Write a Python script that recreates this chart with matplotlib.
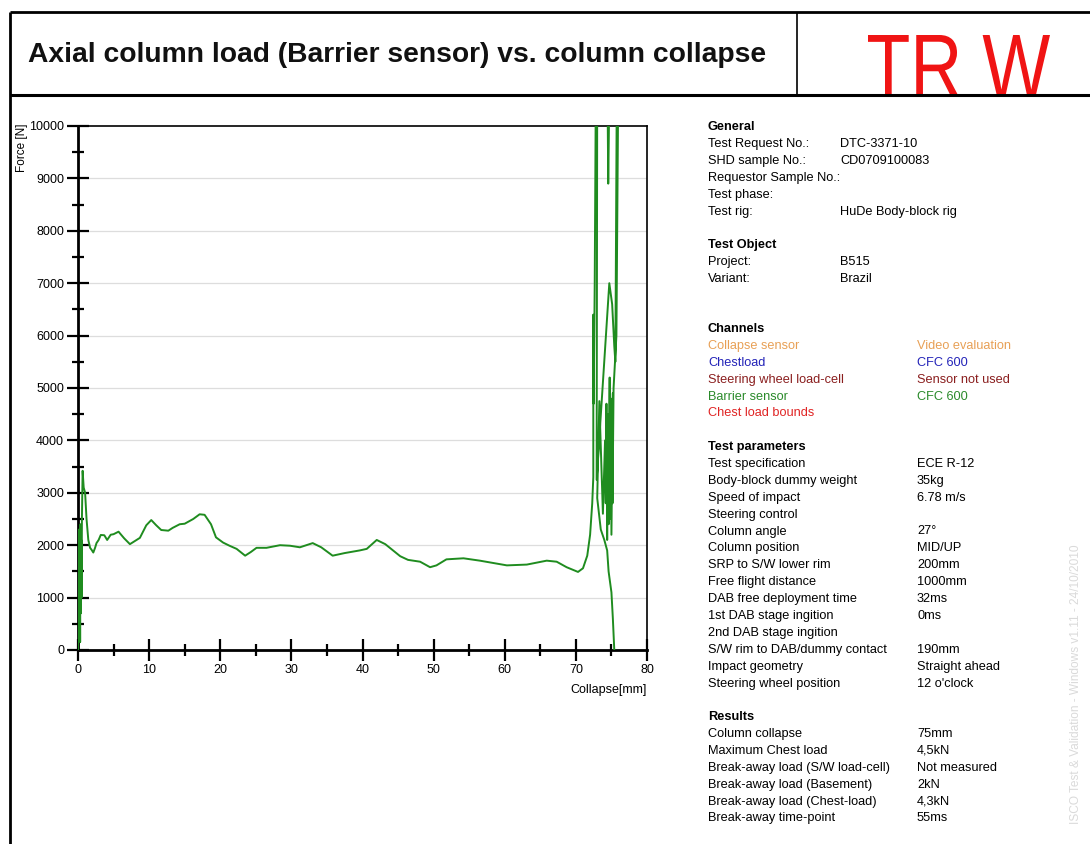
import matplotlib
matplotlib.use("Agg")
import matplotlib.pyplot as plt
from matplotlib.lines import Line2D
from matplotlib.ticker import MultipleLocator
from matplotlib.textpath import TextPath
from matplotlib.patches import PathPatch
from matplotlib.font_manager import FontProperties
from matplotlib.transforms import Affine2D

# ---------------- data ----------------
collapse_mm = [
    0.0, 0.05, 0.1, 0.15, 0.2, 0.25, 0.3, 0.35, 0.4, 0.45, 0.5, 0.55, 0.65, 0.8, 1.0,
    1.2, 1.45, 1.7, 1.92, 2.15, 2.4, 2.6, 2.9, 3.2, 3.7, 4.1, 4.6, 5.0, 5.7, 6.5,
    7.3, 8.0, 8.7, 9.6, 10.3, 11.0, 11.7, 12.7, 13.3, 14.3, 15.0, 16.2, 17.1, 17.8,
    18.7, 19.4, 20.4, 21.3, 22.3, 23.5, 24.3, 25.1, 26.5, 28.4, 29.8, 31.2, 33.0,
    34.2, 35.8, 37.5, 39.6, 40.6, 42.0, 43.2, 45.3, 46.4, 48.1, 49.5, 50.4, 51.8,
    54.2, 56.5, 60.3, 63.1, 65.9, 67.3, 68.7, 70.3, 71.0, 71.6, 72.0, 72.3, 72.45,
    72.45, 72.5, 72.65, 72.8, 73.0, 72.92, 74.7, 75.1, 75.4, 75.55, 75.75, 74.45,
    74.55, 74.7, 75.95, 75.7, 75.3, 75.15, 75.2, 75.0, 74.9, 74.8, 74.75, 74.6,
    74.5, 74.4, 74.3, 74.2, 74.1, 73.8, 73.3, 73.0, 73.5, 74.0, 74.4, 74.6, 74.8,
    75.0, 75.2, 75.3, 75.4,
]
force_N = [
    0, 1500, 200, 2300, 400, 1900, 150, 2400, 700, 2100, 1000, 2500, 3420, 3100, 3000,
    2500, 2100, 1950, 1910, 1860, 1950, 2040, 2100, 2195, 2190, 2100, 2200, 2210, 2258, 2130,
    2020, 2080, 2140, 2380, 2480, 2380, 2290, 2277, 2330, 2400, 2410, 2500, 2590, 2580,
    2400, 2150, 2050, 1990, 1930, 1800, 1870, 1950, 1950, 2000, 1990, 1960, 2040,
    1960, 1800, 1850, 1900, 1930, 2100, 2020, 1790, 1720, 1685, 1580, 1615, 1730,
    1750, 1705, 1615, 1630, 1705, 1685, 1580, 1490, 1560, 1800, 2200, 2800, 3300,
    6400, 4700, 7000, 10600, 10600, 3250, 7000, 6600, 5800, 5500, 10600, 10600,
    8900, 10600, 10600, 6000, 5000, 2800, 4900, 2200, 4800, 2500, 5200, 2400,
    4500, 2100, 4700, 2800, 4000, 2600, 4750, 2900, 2300, 2100, 1900, 1500, 1300,
    1100, 600, 300, 0,
]

x_ticks = [0, 10, 20, 30, 40, 50, 60, 70, 80]
y_ticks = [0, 1000, 2000, 3000, 4000, 5000, 6000, 7000, 8000, 9000, 10000]

title_text = "Axial column load (Barrier sensor) vs. column collapse"
logo_text = "TR W"
x_label = "Collapse[mm]"
y_label = "Force [N]"

general_rows = [
    ("Test Request No.:", "DTC-3371-10"),
    ("SHD sample No.:", "CD0709100083"),
    ("Requestor Sample No.:", ""),
    ("Test phase:", ""),
    ("Test rig:", "HuDe Body-block rig"),
]
object_rows = [("Project:", "B515"), ("Variant:", "Brazil")]
channel_rows = [
    ("Collapse sensor", "Video evaluation", "#e8a055"),
    ("Chestload", "CFC 600", "#2323b8"),
    ("Steering wheel load-cell", "Sensor not used", "#8a1e1e"),
    ("Barrier sensor", "CFC 600", "#2a8a2a"),
    ("Chest load bounds", "", "#e02424"),
]
param_rows = [
    ("Test specification", "ECE R-12"),
    ("Body-block dummy weight", "35kg"),
    ("Speed of impact", "6.78 m/s"),
    ("Steering control", ""),
    ("Column angle", "27°"),
    ("Column position", "MID/UP"),
    ("SRP to S/W lower rim", "200mm"),
    ("Free flight distance", "1000mm"),
    ("DAB free deployment time", "32ms"),
    ("1st DAB stage ingition", "0ms"),
    ("2nd DAB stage ingition", ""),
    ("S/W rim to DAB/dummy contact", "190mm"),
    ("Impact geometry", "Straight ahead"),
    ("Steering wheel position", "12 o'clock"),
]
result_rows = [
    ("Column collapse", "75mm"),
    ("Maximum Chest load", "4,5kN"),
    ("Break-away load (S/W load-cell)", "Not measured"),
    ("Break-away load (Basement)", "2kN"),
    ("Break-away load (Chest-load)", "4,3kN"),
    ("Break-away time-point", "55ms"),
]
watermark = "ISCO Test & Validation - Windows v1.11 - 24/10/2010"

# ---------------- figure ----------------
W, H = 1090, 844
plt.rcParams['font.family'] = ['Liberation Sans', 'DejaVu Sans']
fig = plt.figure(figsize=(W / 100, H / 100), dpi=100)

def fx(px):
    return px / W

def fy(py):
    return 1 - py / H

def fline(x0, y0, x1, y1, lw):
    fig.add_artist(Line2D([fx(x0), fx(x1)], [fy(y0), fy(y1)], color='black',
                          lw=lw, transform=fig.transFigure, solid_capstyle='butt'))

fline(10, 12, W, 12, 2.0)
fline(10, 95, W, 95, 2.2)
fline(10, 12, 10, H, 2.0)
fline(797, 12, 797, 95, 1.2)

fig.text(fx(28), fy(55), title_text, fontsize=20.3, fontweight='bold',
         ha='left', va='center', color='#111111')

# logo: condensed red letters drawn from a text path, in pixel coordinates
tp = TextPath((0, 0), logo_text, size=100, prop=FontProperties(family='Liberation Sans'))
bb = tp.get_extents()
target_w, target_h = 1050 - 868, 97 - 35  # pixel box of the logo caps
sx = target_w / bb.width
sy = target_h / bb.height
patch = PathPatch(tp, facecolor='#f01414', edgecolor='none',
                  transform=Affine2D().translate(-bb.x0, -bb.y0).scale(sx, sy)
                  .translate(868, H - 97).scale(1 / W, 1 / H) + fig.transFigure)
fig.add_artist(patch)

# ---------------- axes ----------------
ax = fig.add_axes([fx(78), fy(650), fx(647) - fx(78), fy(126) - fy(650)])
ax.plot(collapse_mm, force_N, color='#1f8c1f', lw=1.4, zorder=3)
ax.set_xlim(0, 80)
ax.set_ylim(0, 10000)
ax.set_xticks(x_ticks)
ax.set_yticks(y_ticks)
ax.xaxis.set_minor_locator(MultipleLocator(5))
ax.yaxis.set_minor_locator(MultipleLocator(500))
ax.tick_params(axis='both', which='major', direction='inout', length=16, width=1.6,
               labelsize=9, color='black', pad=2)
ax.tick_params(axis='both', which='minor', direction='inout', length=8, width=1.6)
for y in y_ticks[1:-1]:
    ax.axhline(y, color='#dddddd', lw=0.9, zorder=1)
for side in ['top', 'right']:
    ax.spines[side].set_linewidth(1.2)
for side in ['left', 'bottom']:
    ax.spines[side].set_linewidth(2.0)

fig.text(fx(22), fy(124), y_label, rotation=90, fontsize=8.5, ha='center', va='top')
fig.text(fx(647), fy(690), x_label, fontsize=9, ha='right', va='center')

# ---------------- info panel ----------------
LX, VX1, VX2 = 708, 840, 917
FS = 9.2

def label(y, text, bold=False, x=LX, color='black'):
    fig.text(fx(x), fy(y), text, fontsize=FS, ha='left', va='center',
             fontweight='bold' if bold else 'normal', color=color)

step = 16.9
label(127, "General", bold=True)
for i, (k, v) in enumerate(general_rows):
    y = 127 + step * (i + 1)
    label(y, k)
    label(y, v, x=VX1)

label(245, "Test Object", bold=True)
for i, (k, v) in enumerate(object_rows):
    y = 245 + step * (i + 1)
    label(y, k)
    label(y, v, x=VX1)

label(329, "Channels", bold=True)
for i, (k, v, c) in enumerate(channel_rows):
    y = 329 + step * (i + 1)
    label(y, k, color=c)
    label(y, v, x=VX2, color=c)

label(447, "Test parameters", bold=True)
for i, (k, v) in enumerate(param_rows):
    y = 447 + step * (i + 1)
    label(y, k)
    label(y, v, x=VX2)

label(717, "Results", bold=True)
for i, (k, v) in enumerate(result_rows):
    y = 717 + step * (i + 1)
    label(y, k)
    label(y, v, x=VX2)

fig.text(fx(1076), fy(545), watermark, rotation=90, fontsize=8.6, color='#dadada',
         ha='center', va='top')

fig.savefig("out.png", dpi=100, facecolor='white')
